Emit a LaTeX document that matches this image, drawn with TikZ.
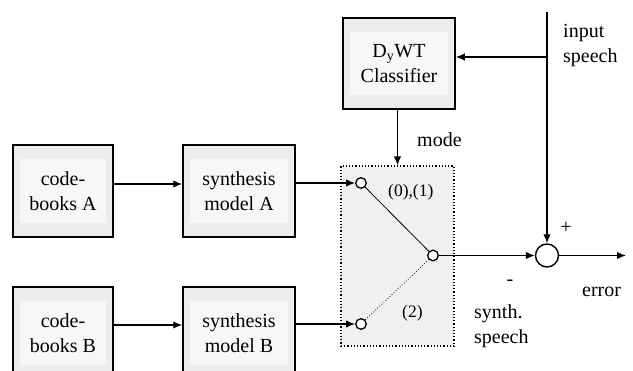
\documentclass[tikz,border=0pt]{standalone}
\usepackage{fontspec}
\setmainfont{Liberation Serif}
\usetikzlibrary{arrows.meta}

\definecolor{boxgray}{RGB}{236,236,236}
\definecolor{innergray}{RGB}{247,247,247}
\definecolor{swgray}{RGB}{240,240,240}

\begin{document}
\begin{tikzpicture}[x=1pt,y=-1pt,
  txt/.style={font=\fontsize{20}{25}\selectfont, inner sep=0pt},
  smalltxt/.style={font=\fontsize{17.5}{21}\selectfont, inner sep=0pt},
  blockbox/.style={draw, line width=1.5pt, fill=boxgray, minimum height=92pt,
    align=center, txt,
    path picture={\fill[innergray]
      ([shift={(7pt,-14pt)}]path picture bounding box.north west) rectangle
      ([shift={(-7pt,14pt)}]path picture bounding box.south east);}},
  arr/.style={line width=1.4pt, -{Latex[length=9pt,width=7.5pt]}},
  port/.style={circle, draw, line width=1.3pt, fill=white, minimum size=10.6pt, inner sep=0pt},
  sumnode/.style={circle, draw, line width=1.4pt, fill=white, minimum size=23pt, inner sep=0pt}
]
\clip (0,0) rectangle (633,371);
\fill[white] (0,0) rectangle (633,371);

% processing blocks
\node[blockbox, minimum width=100pt] (cbA) at (63,191) {code-\\books A};
\node[blockbox, minimum width=112pt] (synA) at (239,191) {synthesis\\model A};
\node[blockbox, minimum width=100pt] (cbB) at (63,333) {code-\\books B};
\node[blockbox, minimum width=112pt] (synB) at (239,333) {synthesis\\model B};
\node[blockbox, minimum width=112pt, minimum height=91pt] (cls) at (399,63.5) {D\textsubscript{y}WT\\Classifier};

% switch
\node[draw, dotted, line width=1.2pt, fill=swgray, minimum width=113pt, minimum height=180pt, inner sep=0pt] (swbox) at (397.5,256) {};
\node[port] (sA) at (361,183) {};
\node[port] (sC) at (433,255.5) {};
\node[port] (sB) at (361,324) {};
\draw[line width=0.8pt] (sA) -- (sC);
\draw[line width=0.8pt, dotted] (sB) -- (sC);
\node[smalltxt, anchor=base west] (l01) at (388,197) {(0),(1)};
\node[smalltxt, anchor=base west] (l2) at (402,318) {(2)};

% summing point
\node[sumnode] (sum) at (547,255.5) {};
\coordinate (inTop) at (547,12);
\coordinate (br) at (547,57);
\coordinate (out) at (626,255.5);

% connectors
\draw[arr] ([yshift=7pt]cbA.east) -- ([yshift=7pt]synA.west);
\draw[arr] ([yshift=8pt]cbB.east) -- ([yshift=8pt]synB.west);
\draw[arr] (synA.east |- sA.west) -- (sA.west);
\draw[arr] (synB.east |- sB.west) -- (sB.west);
\draw[arr] (swbox.north |- cls.south) -- (swbox.north);
\draw[line width=1.4pt] (inTop) -- (br);
\draw[arr] (br) -- (sum.north);
\draw[arr] (br) -- (cls.east |- br);
\draw[arr] (sC.east) -- (sum.west);
\draw[arr] (sum.east) -- (out);

% labels
\node[txt, anchor=north west, align=left] (lin) at (563,24) {input\\speech};
\node[txt, anchor=base west] (lmode) at (417,147) {mode};
\node[txt] (lplus) at (566,228) {+};
\node[txt] (lminus) at (510,283) {-};
\node[txt, anchor=base west] (lerr) at (582,297) {error};
\node[txt, anchor=north west, align=left] (lsyn) at (474,304) {synth.\\speech};
\end{tikzpicture}
\end{document}
